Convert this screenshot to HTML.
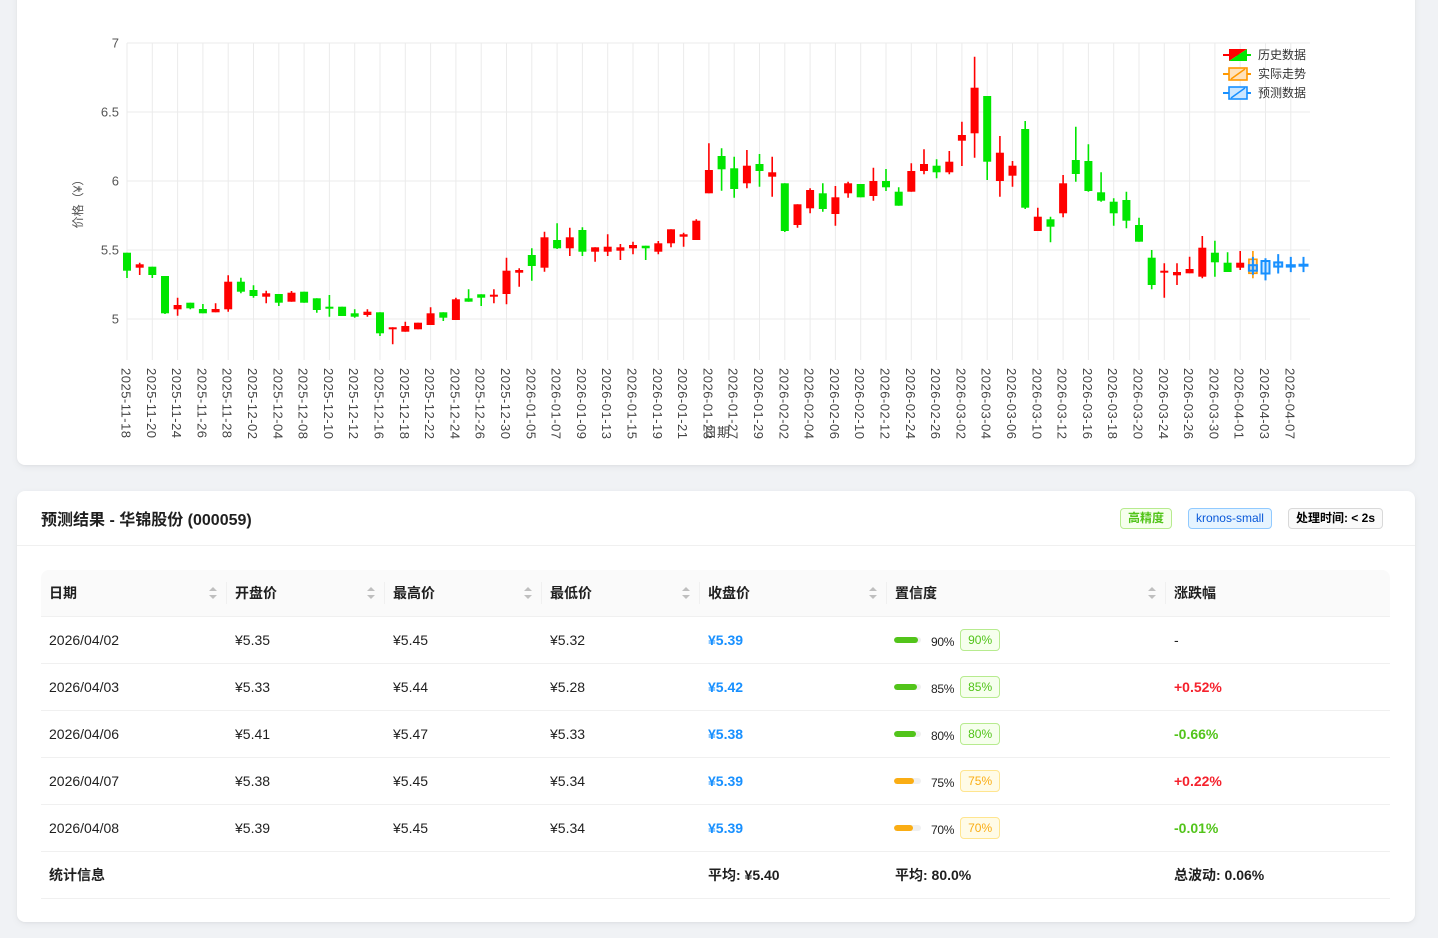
<!DOCTYPE html>
<html>
<head>
<meta charset="utf-8">
<style>
*{box-sizing:border-box;}
html,body{margin:0;padding:0;}
body{width:1438px;height:938px;overflow:hidden;position:relative;background:#f0f2f5;font-family:"Liberation Sans","Noto Sans CJK SC",sans-serif;color:rgba(0,0,0,0.88);}
.card{position:absolute;left:17px;width:1398px;background:#fff;border-radius:8px;box-shadow:0 1px 2px rgba(0,0,0,0.04),0 2px 8px rgba(0,0,0,0.05);}
#c1{top:-20px;height:485px;}
#c2{top:491px;height:431px;}
svg text{font-family:"Liberation Sans","Noto Sans CJK SC",sans-serif;}
.head{height:55px;border-bottom:1px solid #f0f0f0;display:flex;align-items:center;justify-content:space-between;padding:0 24px;}
.title{font-size:16px;font-weight:bold;color:rgba(0,0,0,0.88);}
.tags{display:flex;align-items:center;}
.tag{display:inline-block;height:21px;line-height:19px;font-size:12px;padding:0 7px;border:1px solid #d9d9d9;border-radius:4px;margin-left:8px;margin-right:8px;background:#fafafa;white-space:nowrap;}
.tag:first-child{margin-left:0;}
.tg{background:#f6ffed;border-color:#b7eb8f;color:#52c41a;font-weight:bold;}
.tb{background:#e6f4ff;border-color:#91caff;color:#0958d9;}
.tn{color:#000;font-weight:bold;}
.tbl{position:absolute;left:24px;top:79px;width:1349px;}
.row{display:flex;height:47px;border-bottom:1px solid #f0f0f0;font-size:14px;align-items:center;}
.row.h{background:#fafafa;font-weight:bold;border-radius:8px 8px 0 0;}
.cell{padding-left:8px;position:relative;height:46px;line-height:46px;white-space:nowrap;}
.w1{width:186px}.w2{width:158px}.w3{width:157px}.w4{width:158px}.w5{width:187px}.w6{width:279px}.w7{width:224px}
.sep{position:absolute;right:0;top:12px;width:1px;height:22px;background:#f0f0f0;}
.sort{position:absolute;right:10px;top:17px;width:8px;height:12px;}
.blue{color:#1890ff;font-weight:bold;}
.up{color:#f5222d;font-weight:bold;}
.dn{color:#52c41a;font-weight:bold;}
.b{font-weight:bold;}
.conf{display:flex;align-items:center;height:46px;}
.trk{width:27px;height:6px;border-radius:3px;background:#f0f0f0;overflow:hidden;margin-left:-1px;}
.fill{height:6px;border-radius:3px;}
.pt{font-size:12px;margin-left:10px;line-height:14px;margin-top:4px;letter-spacing:-0.3px;}
.ctag{display:inline-block;height:22px;line-height:20px;font-size:12px;padding:0 7px;border:1px solid;border-radius:4px;margin-left:6px;}
.cg{background:#f6ffed;border-color:#b7eb8f;color:#52c41a;}
.co{background:#fffbe6;border-color:#ffe58f;color:#faad14;}
</style>
</head>
<body>
<div class="card" id="c1"></div>
<svg style="position:absolute;left:0;top:0" width="1438" height="465" viewBox="0 0 1438 465">
<g stroke="#ebebeb" stroke-width="1" fill="none">
<path d="M127 43H1310M127 112H1310M127 181H1310M127 250H1310M127 319H1310"/>
<path d="M127 43V360M152.3 43V360M177.6 43V360M202.9 43V360M228.2 43V360M253.5 43V360M278.8 43V360M304.1 43V360M329.4 43V360M354.7 43V360M380 43V360M405.3 43V360M430.6 43V360M455.9 43V360M481.2 43V360M506.5 43V360M531.8 43V360M557.1 43V360M582.4 43V360M607.7 43V360M633 43V360M658.3 43V360M683.6 43V360M708.9 43V360M734.2 43V360M759.5 43V360M784.8 43V360M810.1 43V360M835.4 43V360M860.7 43V360M886 43V360M911.3 43V360M936.6 43V360M961.9 43V360M987.2 43V360M1012.5 43V360M1037.8 43V360M1063.1 43V360M1088.4 43V360M1113.7 43V360M1139 43V360M1164.3 43V360M1189.6 43V360M1214.9 43V360M1240.2 43V360M1265.5 43V360M1290.8 43V360"/>
</g>
<g font-size="13" fill="#555" text-anchor="end" dominant-baseline="central">
<text x="119" y="43">7</text>
<text x="119" y="112">6.5</text>
<text x="119" y="181">6</text>
<text x="119" y="250">5.5</text>
<text x="119" y="319">5</text>
</g>
<text transform="translate(78,201) rotate(-90)" font-size="12" fill="#555" text-anchor="middle" dominant-baseline="central">价格（¥）</text>
<!-- red candles -->
<path stroke="#f00" stroke-width="1.6" fill="none" d="M139.7 262.7V275M177.6 297.7V315.7M215.6 303.3V312.3M228.2 275.3V311.7M266.2 290.7V303.3M291.5 291V301.7M367.4 309.3V316.7M392.7 327.3V344.3M405.3 321.7V331.7M418 322.7V329.3M430.6 307.3V325M455.9 297.7V320M493.9 289.3V303.3M506.5 257.7V304.3M519.2 268.3V286.7M544.5 231.7V271.7M569.8 227.7V256M595.1 247.3V261.7M607.7 234.3V256M620.4 244V260M633 241.7V254.3M658.3 241V254.3M671 229.3V247.3M683.6 232.7V246.7M696.3 219.3V240M708.9 143.3V193.3M746.9 150V188.3M772.2 156.7V196.7M797.5 204.3V227.7M810.1 188.3V213.3M835.4 186V225.7M848.1 181.7V197.7M873.4 167.7V200.7M911.3 163.3V191.7M924 149.3V174.3M949.3 151V174.3M961.9 121.7V166M974.6 56.7V157.7M999.9 136V196.7M1012.5 161V186.7M1037.8 207.7V231M1063.1 175V217.3M1164.3 263.3V297.7M1177 263.3V285M1189.6 256.7V273.3M1202.3 236V278.3M1240.2 251V270"/>
<g fill="#f00">
<rect x="135.7" y="264.3" width="8" height="3.4"/>
<rect x="173.6" y="305" width="8" height="4.3"/>
<rect x="211.6" y="309" width="8" height="3.3"/>
<rect x="224.2" y="281.7" width="8" height="27.6"/>
<rect x="262.2" y="293.3" width="8" height="3.4"/>
<rect x="287.5" y="292.7" width="8" height="9"/>
<rect x="363.4" y="311.7" width="8" height="3.3"/>
<rect x="388.7" y="327.3" width="8" height="2"/>
<rect x="401.3" y="326" width="8" height="5.7"/>
<rect x="414" y="322.7" width="8" height="6.6"/>
<rect x="426.6" y="313.3" width="8" height="11.7"/>
<rect x="451.9" y="299.3" width="8" height="20.7"/>
<rect x="489.9" y="294.7" width="8" height="2"/>
<rect x="502.5" y="270.7" width="8" height="23.3"/>
<rect x="515.2" y="270" width="8" height="2.7"/>
<rect x="540.5" y="237.3" width="8" height="30.4"/>
<rect x="565.8" y="237.3" width="8" height="11"/>
<rect x="591.1" y="247.3" width="8" height="4.4"/>
<rect x="603.7" y="246.7" width="8" height="5"/>
<rect x="616.4" y="247.3" width="8" height="3.4"/>
<rect x="629" y="245" width="8" height="3.3"/>
<rect x="654.3" y="243.3" width="8" height="8.4"/>
<rect x="667" y="229.3" width="8" height="14"/>
<rect x="679.6" y="234.3" width="8" height="2.4"/>
<rect x="692.3" y="220.7" width="8" height="19.3"/>
<rect x="704.9" y="170" width="8" height="23.3"/>
<rect x="742.9" y="165.7" width="8" height="17.6"/>
<rect x="768.2" y="172.3" width="8" height="4.4"/>
<rect x="793.5" y="204.3" width="8" height="20.7"/>
<rect x="806.1" y="190" width="8" height="18.3"/>
<rect x="831.4" y="197.3" width="8" height="16.7"/>
<rect x="844.1" y="183.3" width="8" height="10"/>
<rect x="869.4" y="181" width="8" height="15"/>
<rect x="907.3" y="171" width="8" height="20.7"/>
<rect x="920" y="164" width="8" height="7"/>
<rect x="945.3" y="161.7" width="8" height="10.6"/>
<rect x="957.9" y="135" width="8" height="5.7"/>
<rect x="970.6" y="87.7" width="8" height="45.6"/>
<rect x="995.9" y="152.7" width="8" height="28.3"/>
<rect x="1008.5" y="165.7" width="8" height="10"/>
<rect x="1033.8" y="216.7" width="8" height="14.3"/>
<rect x="1059.1" y="183.3" width="8" height="30"/>
<rect x="1160.3" y="270.7" width="8" height="2"/>
<rect x="1173" y="272" width="8" height="3.3"/>
<rect x="1185.6" y="269" width="8" height="4.3"/>
<rect x="1198.3" y="247.7" width="8" height="29"/>
<rect x="1236.2" y="262.7" width="8" height="5"/>
</g>
<!-- green candles -->
<path stroke="#00e600" stroke-width="1.6" fill="none" d="M127 252.7V278M152.3 266.7V278M165 276V314M190.3 302.7V309.3M202.9 304V313.3M240.9 277.7V293.3M253.5 285.3V297.7M278.8 294V306M304.1 291.7V302.7M316.8 298.3V312.7M329.4 295V316.7M342.1 306.7V316M354.7 309.3V317.7M380 312.3V336M443.3 312.3V321M468.6 289.3V301.7M481.2 294.3V306M531.8 248.3V280.7M557.1 223.3V249M582.4 227.3V256M645.7 245.7V260M721.6 148.3V190.7M734.2 156.7V197.7M759.5 154V186.7M784.8 183.3V232M822.8 183.3V211.7M860.7 184V197.3M886 169V191M898.7 187.3V205.7M936.6 159.3V178.3M987.2 96V180M1025.2 121V209M1050.5 216.7V242.3M1075.8 126.7V181.7M1088.4 144.3V191.7M1101.1 172.3V201.7M1113.7 198.3V225.7M1126.4 191.7V228.3M1139 217.7V241.7M1151.7 250V289.3M1214.9 240.7V276.7M1227.6 252.3V272"/>
<g fill="#00e600">
<rect x="123" y="252.7" width="8" height="18"/>
<rect x="148.3" y="266.7" width="8" height="8.3"/>
<rect x="161" y="276" width="8" height="37.3"/>
<rect x="186.3" y="302.7" width="8" height="5.6"/>
<rect x="198.9" y="309" width="8" height="4.3"/>
<rect x="236.9" y="281.7" width="8" height="10"/>
<rect x="249.5" y="290" width="8" height="6"/>
<rect x="274.8" y="294" width="8" height="8.7"/>
<rect x="300.1" y="291.7" width="8" height="11"/>
<rect x="312.8" y="298.3" width="8" height="11.7"/>
<rect x="325.4" y="306.7" width="8" height="2"/>
<rect x="338.1" y="306.7" width="8" height="9.3"/>
<rect x="350.7" y="313.3" width="8" height="3.4"/>
<rect x="376" y="312.3" width="8" height="21"/>
<rect x="439.3" y="312.3" width="8" height="5.4"/>
<rect x="464.6" y="298.3" width="8" height="3.4"/>
<rect x="477.2" y="294.3" width="8" height="3.4"/>
<rect x="527.8" y="255" width="8" height="11"/>
<rect x="553.1" y="240" width="8" height="8.3"/>
<rect x="578.4" y="230" width="8" height="21.7"/>
<rect x="641.7" y="245.7" width="8" height="2.6"/>
<rect x="717.6" y="156" width="8" height="13.3"/>
<rect x="730.2" y="168.3" width="8" height="20.7"/>
<rect x="755.5" y="164" width="8" height="7"/>
<rect x="780.8" y="183.3" width="8" height="47.7"/>
<rect x="818.8" y="193.3" width="8" height="15.7"/>
<rect x="856.7" y="184" width="8" height="13.3"/>
<rect x="882" y="181" width="8" height="6.3"/>
<rect x="894.7" y="191.7" width="8" height="14"/>
<rect x="932.6" y="165.7" width="8" height="6.6"/>
<rect x="983.2" y="96" width="8" height="65.7"/>
<rect x="1021.2" y="129" width="8" height="78.7"/>
<rect x="1046.5" y="219.3" width="8" height="7.4"/>
<rect x="1071.8" y="160" width="8" height="14"/>
<rect x="1084.4" y="161" width="8" height="30"/>
<rect x="1097.1" y="192.3" width="8" height="8.4"/>
<rect x="1109.7" y="201.7" width="8" height="11.6"/>
<rect x="1122.4" y="200" width="8" height="20.7"/>
<rect x="1135" y="225" width="8" height="16.7"/>
<rect x="1147.7" y="257.7" width="8" height="27.3"/>
<rect x="1210.9" y="252.7" width="8" height="9.6"/>
<rect x="1223.6" y="262.7" width="8" height="9.3"/>
</g>
<!-- actual -->
<path stroke="#ff9800" stroke-width="1.6" d="M1252.9 251V278.3"/>
<rect x="1248.9" y="259.3" width="8" height="14" fill="rgba(255,152,0,0.25)" stroke="#ff9800" stroke-width="1.6"/>
<!-- predicted -->
<path stroke="#1890ff" stroke-width="2" fill="none" d="M1252.9 256.9V274.8M1265.5 258.3V280.4M1278.2 254.1V273.5M1290.8 256.9V272.1M1303.5 256.9V272.1"/>
<g fill="rgba(24,144,255,0.2)" stroke="#1890ff" stroke-width="2">
<rect x="1248.9" y="265.2" width="8" height="5.5"/>
<rect x="1261.5" y="261" width="8" height="12.5"/>
<rect x="1274.2" y="262.4" width="8" height="4.2"/>
<rect x="1286.8" y="265.2" width="8" height="1.4"/>
<rect x="1299.5" y="264.7" width="8" height="1"/>
</g>
<!-- x labels -->
<g font-size="13" fill="#444" letter-spacing="0.5" dominant-baseline="central">
<text transform="translate(126,368) rotate(90)">2025-11-18</text>
<text transform="translate(151.3,368) rotate(90)">2025-11-20</text>
<text transform="translate(176.6,368) rotate(90)">2025-11-24</text>
<text transform="translate(201.9,368) rotate(90)">2025-11-26</text>
<text transform="translate(227.2,368) rotate(90)">2025-11-28</text>
<text transform="translate(252.5,368) rotate(90)">2025-12-02</text>
<text transform="translate(277.8,368) rotate(90)">2025-12-04</text>
<text transform="translate(303.1,368) rotate(90)">2025-12-08</text>
<text transform="translate(328.4,368) rotate(90)">2025-12-10</text>
<text transform="translate(353.7,368) rotate(90)">2025-12-12</text>
<text transform="translate(379,368) rotate(90)">2025-12-16</text>
<text transform="translate(404.3,368) rotate(90)">2025-12-18</text>
<text transform="translate(429.6,368) rotate(90)">2025-12-22</text>
<text transform="translate(454.9,368) rotate(90)">2025-12-24</text>
<text transform="translate(480.2,368) rotate(90)">2025-12-26</text>
<text transform="translate(505.5,368) rotate(90)">2025-12-30</text>
<text transform="translate(530.8,368) rotate(90)">2026-01-05</text>
<text transform="translate(556.1,368) rotate(90)">2026-01-07</text>
<text transform="translate(581.4,368) rotate(90)">2026-01-09</text>
<text transform="translate(606.7,368) rotate(90)">2026-01-13</text>
<text transform="translate(632,368) rotate(90)">2026-01-15</text>
<text transform="translate(657.3,368) rotate(90)">2026-01-19</text>
<text transform="translate(682.6,368) rotate(90)">2026-01-21</text>
<text transform="translate(707.9,368) rotate(90)">2026-01-23</text>
<text transform="translate(733.2,368) rotate(90)">2026-01-27</text>
<text transform="translate(758.5,368) rotate(90)">2026-01-29</text>
<text transform="translate(783.8,368) rotate(90)">2026-02-02</text>
<text transform="translate(809.1,368) rotate(90)">2026-02-04</text>
<text transform="translate(834.4,368) rotate(90)">2026-02-06</text>
<text transform="translate(859.7,368) rotate(90)">2026-02-10</text>
<text transform="translate(885,368) rotate(90)">2026-02-12</text>
<text transform="translate(910.3,368) rotate(90)">2026-02-24</text>
<text transform="translate(935.6,368) rotate(90)">2026-02-26</text>
<text transform="translate(960.9,368) rotate(90)">2026-03-02</text>
<text transform="translate(986.2,368) rotate(90)">2026-03-04</text>
<text transform="translate(1011.5,368) rotate(90)">2026-03-06</text>
<text transform="translate(1036.8,368) rotate(90)">2026-03-10</text>
<text transform="translate(1062.1,368) rotate(90)">2026-03-12</text>
<text transform="translate(1087.4,368) rotate(90)">2026-03-16</text>
<text transform="translate(1112.7,368) rotate(90)">2026-03-18</text>
<text transform="translate(1138,368) rotate(90)">2026-03-20</text>
<text transform="translate(1163.3,368) rotate(90)">2026-03-24</text>
<text transform="translate(1188.6,368) rotate(90)">2026-03-26</text>
<text transform="translate(1213.9,368) rotate(90)">2026-03-30</text>
<text transform="translate(1239.2,368) rotate(90)">2026-04-01</text>
<text transform="translate(1264.5,368) rotate(90)">2026-04-03</text>
<text transform="translate(1289.8,368) rotate(90)">2026-04-07</text>
</g>
<text x="717" y="437" font-size="13" fill="#444" text-anchor="middle">日期</text>
<!-- legend -->
<g>
<path d="M1223 55H1237" stroke="#f00" stroke-width="2"/>
<path d="M1237 55H1251" stroke="#00e600" stroke-width="2"/>
<polygon points="1229,49 1247,49 1229,61" fill="#f00"/>
<polygon points="1247,49 1247,61 1229,61" fill="#00e600"/>
<text x="1258" y="55" font-size="12" fill="#333" dominant-baseline="central">历史数据</text>
<path d="M1223 74H1251" stroke="#ff9800" stroke-width="2"/>
<rect x="1229" y="68" width="18" height="12" fill="#ffe2bd" stroke="#ff9800" stroke-width="1.6"/>
<path d="M1231 79L1245 69" stroke="#ff9800" stroke-width="1.5"/>
<text x="1258" y="74" font-size="12" fill="#333" dominant-baseline="central">实际走势</text>
<path d="M1223 93H1251" stroke="#1890ff" stroke-width="2"/>
<rect x="1229" y="87" width="18" height="12" fill="#cde7ff" stroke="#1890ff" stroke-width="1.6"/>
<path d="M1231 98L1245 88" stroke="#1890ff" stroke-width="1.5"/>
<text x="1258" y="93" font-size="12" fill="#333" dominant-baseline="central">预测数据</text>
</g>
</svg>

<div class="card" id="c2">
<div class="head">
<div class="title">预测结果 - 华锦股份 (000059)</div>
<div class="tags"><span class="tag tg">高精度</span><span class="tag tb">kronos-small</span><span class="tag tn">处理时间: &lt; 2s</span></div>
</div>
<div class="tbl">
<div class="row h">
<div class="cell w1">日期<span class="sep"></span><svg class="sort" viewBox="0 0 8 12"><path d="M4 0L8 4H0Z M4 12L8 8H0Z" fill="#bfbfbf"/></svg></div>
<div class="cell w2">开盘价<span class="sep"></span><svg class="sort" viewBox="0 0 8 12"><path d="M4 0L8 4H0Z M4 12L8 8H0Z" fill="#bfbfbf"/></svg></div>
<div class="cell w3">最高价<span class="sep"></span><svg class="sort" viewBox="0 0 8 12"><path d="M4 0L8 4H0Z M4 12L8 8H0Z" fill="#bfbfbf"/></svg></div>
<div class="cell w4">最低价<span class="sep"></span><svg class="sort" viewBox="0 0 8 12"><path d="M4 0L8 4H0Z M4 12L8 8H0Z" fill="#bfbfbf"/></svg></div>
<div class="cell w5">收盘价<span class="sep"></span><svg class="sort" viewBox="0 0 8 12"><path d="M4 0L8 4H0Z M4 12L8 8H0Z" fill="#bfbfbf"/></svg></div>
<div class="cell w6">置信度<span class="sep"></span><svg class="sort" viewBox="0 0 8 12"><path d="M4 0L8 4H0Z M4 12L8 8H0Z" fill="#bfbfbf"/></svg></div>
<div class="cell w7">涨跌幅</div>
</div>
<div class="row">
<div class="cell w1">2026/04/02</div><div class="cell w2">¥5.35</div><div class="cell w3">¥5.45</div><div class="cell w4">¥5.32</div><div class="cell w5 blue">¥5.39</div>
<div class="cell w6"><div class="conf"><div class="trk"><div class="fill" style="width:90%;background:#52c41a"></div></div><span class="pt">90%</span><span class="ctag cg">90%</span></div></div>
<div class="cell w7">-</div>
</div>
<div class="row">
<div class="cell w1">2026/04/03</div><div class="cell w2">¥5.33</div><div class="cell w3">¥5.44</div><div class="cell w4">¥5.28</div><div class="cell w5 blue">¥5.42</div>
<div class="cell w6"><div class="conf"><div class="trk"><div class="fill" style="width:85%;background:#52c41a"></div></div><span class="pt">85%</span><span class="ctag cg">85%</span></div></div>
<div class="cell w7 up">+0.52%</div>
</div>
<div class="row">
<div class="cell w1">2026/04/06</div><div class="cell w2">¥5.41</div><div class="cell w3">¥5.47</div><div class="cell w4">¥5.33</div><div class="cell w5 blue">¥5.38</div>
<div class="cell w6"><div class="conf"><div class="trk"><div class="fill" style="width:80%;background:#52c41a"></div></div><span class="pt">80%</span><span class="ctag cg">80%</span></div></div>
<div class="cell w7 dn">-0.66%</div>
</div>
<div class="row">
<div class="cell w1">2026/04/07</div><div class="cell w2">¥5.38</div><div class="cell w3">¥5.45</div><div class="cell w4">¥5.34</div><div class="cell w5 blue">¥5.39</div>
<div class="cell w6"><div class="conf"><div class="trk"><div class="fill" style="width:75%;background:#faad14"></div></div><span class="pt">75%</span><span class="ctag co">75%</span></div></div>
<div class="cell w7 up">+0.22%</div>
</div>
<div class="row">
<div class="cell w1">2026/04/08</div><div class="cell w2">¥5.39</div><div class="cell w3">¥5.45</div><div class="cell w4">¥5.34</div><div class="cell w5 blue">¥5.39</div>
<div class="cell w6"><div class="conf"><div class="trk"><div class="fill" style="width:70%;background:#faad14"></div></div><span class="pt">70%</span><span class="ctag co">70%</span></div></div>
<div class="cell w7 dn">-0.01%</div>
</div>
<div class="row">
<div class="cell w1 b">统计信息</div><div class="cell w2"></div><div class="cell w3"></div><div class="cell w4"></div><div class="cell w5 b">平均: ¥5.40</div>
<div class="cell w6 b">平均: 80.0%</div>
<div class="cell w7 b">总波动: 0.06%</div>
</div>
</div>
</div>
</body>
</html>
